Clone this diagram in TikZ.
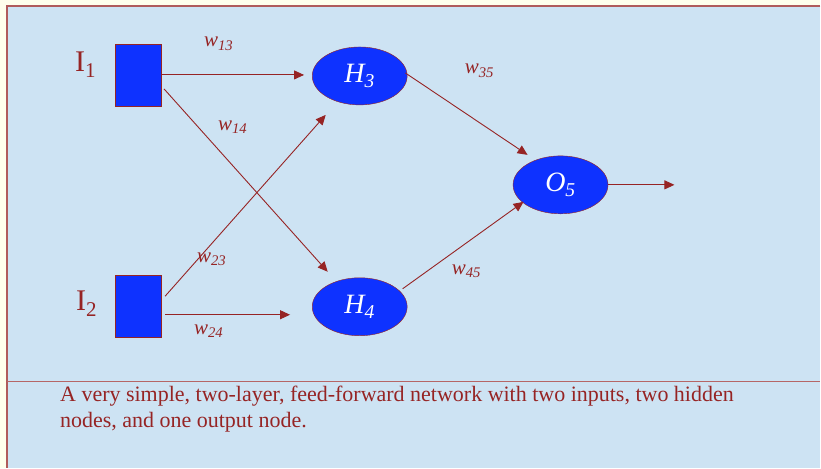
\documentclass[tikz,border=0pt]{standalone}
\usepackage{fontspec}
\setmainfont{Liberation Serif}
\usetikzlibrary{arrows.meta,calc,shapes.geometric}
\definecolor{brick}{RGB}{150,36,36}
\definecolor{netblue}{RGB}{14,50,255}
\definecolor{panel}{RGB}{205,227,243}
\definecolor{cream}{RGB}{255,255,236}
\begin{document}
\begin{tikzpicture}[x=1pt,y=-1pt,
 inp/.style={draw=brick,fill=netblue,minimum width=46pt,minimum height=62pt,inner sep=0},
 unit/.style={ellipse,draw=brick,fill=netblue,minimum width=95pt,minimum height=58pt,inner sep=0,text=white,font=\fontsize{28}{28}\selectfont\itshape},
 wt/.style={anchor=base west,text=brick,font=\fontsize{21}{21}\selectfont\itshape,inner sep=0},
 lbl/.style={anchor=base west,text=brick,font=\fontsize{30}{30}\selectfont,inner sep=0},
 arr/.style={draw=brick,line width=.9pt,-{Triangle[length=10pt,width=9pt]}}]
\fill[cream](0,0)rectangle(821,468);\fill[panel](7,6)rectangle(821,468);
\draw[brick!75!white,line width=1.4pt](821,6)--(7,6)--(7,468);\draw[brick!70!white,line width=.9pt](7,381.5)--(821,381.5);
% inputs
\node[inp](i1)at(138,75){};\node[lbl](li1)at(75,72){I\textsubscript{1}};
\node[inp](i2)at(138,306.5){};\node[lbl](li2)at(76,311){I\textsubscript{2}};
% hidden and output units
\node[unit](h3)at(360,76){H\textsubscript{3}};\node[unit](h4)at(360,307){H\textsubscript{4}};
\node[unit](o5)at(561,185){O\textsubscript{5}};\coordinate(out)at(675,185);
% connections
\draw[arr,shorten >=8pt](i1.east)--(i1.east -| h3.west);
\draw[arr]($(i1.east)+(3,14)$)--($(h4)+(-32,-35)$);
\draw[arr]($(i2.east)+(4,-10)$)--($(h3)+(-34,39)$);
\draw[arr]($(i2.east)+(4,8.5)$)--($(h4.west)+(-22,8)$);
\draw[arr]($(h3.east)+(-2,-3)$)--($(o5)+(-33,-30)$);
\draw[arr]($(h4)+(43,-18)$)--($(o5)+(-37,17)$);
\draw[arr](o5.east)--(out);
% weights
\node[wt](w13)at(204,47){w\textsubscript{13}};\node[wt](w14)at(218,131){w\textsubscript{14}};
\node[wt](w23)at(197,263){w\textsubscript{23}};\node[wt](w24)at(194,335){w\textsubscript{24}};
\node[wt](w35)at(465,74){w\textsubscript{35}};\node[wt](w45)at(452,275){w\textsubscript{45}};
% caption
\node[anchor=north west,align=left,inner sep=0,text=brick,font=\fontsize{22}{26}\selectfont](cap)at(60,386){A very simple, two-layer, feed-forward network with two inputs, two hidden\\nodes, and one output node.};
\end{tikzpicture}
\end{document}
